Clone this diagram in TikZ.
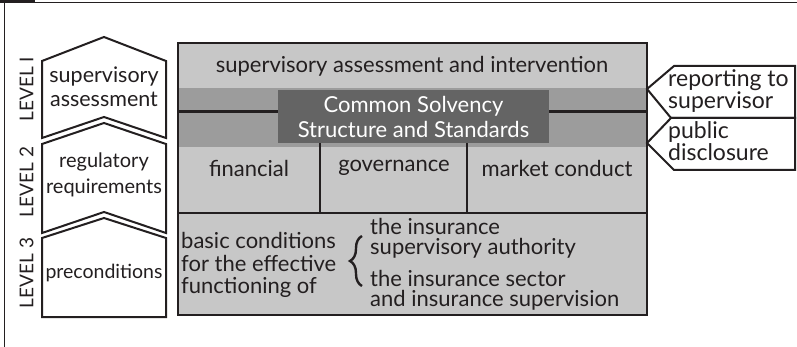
\documentclass[tikz,border=0pt]{standalone}
\usepackage{fontspec}
\setmainfont{Lato}
\usetikzlibrary{decorations.pathreplacing}
\definecolor{lightg}{HTML}{C7C7C7}
\definecolor{midg}{HTML}{9C9C9C}
\definecolor{darkg}{HTML}{646464}
\definecolor{ink}{HTML}{231F20}
\begin{document}
\begin{tikzpicture}[x=1pt,y=-1pt,
  lbl/.style={font=\fontsize{22}{24}\selectfont, text=ink, inner sep=0pt, align=center},
  lvl/.style={font=\fontsize{19}{23}\selectfont, text=ink, inner sep=0pt, rotate=90},
  outline/.style={draw=ink, line width=2pt, fill=white, line join=miter},
  rule/.style={draw=ink, line width=2.5pt},
  darkbox/.style={fill=darkg, text=white, inner sep=0pt, align=center,
    minimum width=271pt, minimum height=53pt, font=\fontsize{22}{25}\selectfont}]
\useasboundingbox (0,0) rectangle (797,347);
% frame
\fill[ink] (0,0) rectangle (35,3.5);
\draw[ink, line width=1pt] (35,3) -- (797,3);
\draw[ink, line width=1.5pt] (4.5,3) -- (4.5,347);
% main box
\fill[lightg] (178,43) rectangle (647,315);
\fill[midg] (178,88) rectangle (647,147);
\node[darkbox] (css) at (413.5,116.5) {Common Solvency\\Structure and Standards};
\coordinate (bandL) at (178,111.5);
\coordinate (bandR) at (647,111.5);
\draw[rule] (bandL) -- (css.west |- bandL);
\draw[rule] (css.east |- bandR) -- (bandR);
\coordinate (v1) at (320,213);
\coordinate (v2) at (467,213);
\draw[rule] (v1 |- css.south) -- (v1);
\draw[rule] (v2 |- css.south) -- (v2);
\draw[rule] (178,213) -- (647,213);
\draw[ink, line width=2.5pt] (178,43) rectangle (647,315);
% texts in main box
\node[lbl] (sai) at (412,66) {supervisory assessment and intervention};
\node[lbl] (fin) at (249,168) {financial};
\node[lbl] (gov) at (394,168) {governance};
\node[lbl] (mkt) at (557,168) {market conduct};
\node[lbl, align=left, anchor=west, font=\fontsize{22}{22.5}\selectfont] (basic) at (181,265) {basic conditions\\for the effective\\functioning of};
\coordinate (brB) at (362,286);
\coordinate (brT) at (362,236);
\draw[ink, line width=2.4pt, decorate, decoration={brace, amplitude=12pt, aspect=0.5}] (brB) -- (brT);
\node[lbl, align=left, anchor=west, font=\fontsize{22}{20}\selectfont] (auth) at (370,238) {the insurance\\supervisory authority};
\node[lbl, align=left, anchor=west, font=\fontsize{22}{20}\selectfont] (sector) at (370,290) {the insurance sector\\and insurance supervision};
% left level shapes
\draw[outline] (42,61) -- (104,37) -- (166,61) -- (166,138) -- (104,117) -- (42,138) -- cycle;
\draw[outline] (42,144) -- (104,123) -- (166,144) -- (166,233) -- (104,212) -- (42,233) -- cycle;
\draw[outline] (42,238) -- (104,218) -- (166,238) -- (166,317) -- (42,317) -- cycle;
\node[lbl, font=\fontsize{21.5}{24}\selectfont] (l1t) at (104,87) {supervisory\\assessment};
\node[lbl, font=\fontsize{20}{26}\selectfont] (l2t) at (104,175) {regulatory\\requirements};
\node[lbl, font=\fontsize{19.5}{24}\selectfont] (l3t) at (104,273) {preconditions};
\node[lvl] (lev1) at (26.5,89) {LEVEL I};
\node[lvl] (lev2) at (26.5,182) {LEVEL 2};
\node[lvl] (lev3) at (26.5,273) {LEVEL 3};
% right shapes
\draw[outline] (674,66) -- (795,66) -- (795,118) -- (671,118) -- (647,89) -- cycle;
\draw[outline] (671,118) -- (795,118) -- (795,170) -- (674,170) -- (647,143) -- cycle;
\node[lbl, align=left, anchor=west, font=\fontsize{23}{22}\selectfont] (rep) at (668,91) {reporting to\\supervisor};
\node[lbl, align=left, anchor=west, font=\fontsize{23}{22}\selectfont] (pub) at (668,141) {public\\disclosure};
\end{tikzpicture}
\end{document}
